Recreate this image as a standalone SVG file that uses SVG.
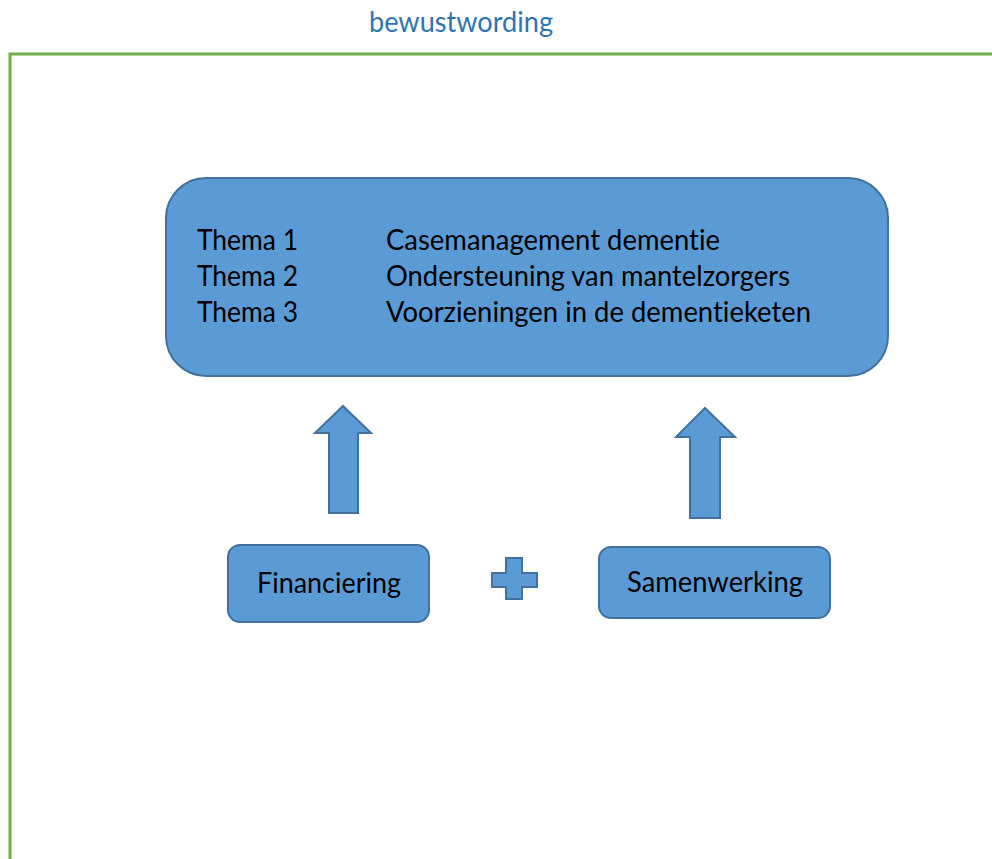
<svg xmlns="http://www.w3.org/2000/svg" width="992" height="859" viewBox="0 0 992 859">
<style>
.shape{fill:#5B9BD5;stroke:#41719C;stroke-width:2}
.t{font-family:Lato,"Open Sans","Liberation Sans",sans-serif;font-size:28px;fill:#000;font-variant-ligatures:none;font-feature-settings:"liga" 0}
</style>
<rect x="0" y="0" width="992" height="859" fill="#fff"/>
<text x="461" y="32" text-anchor="middle" class="t" style="fill:#2E74B5" textLength="184" lengthAdjust="spacingAndGlyphs">bewustwording</text>
<path d="M10,859 L10,54 L1000,54" fill="none" stroke="#70AD47" stroke-width="3"/>
<g id="themas">
<rect class="shape" x="166" y="178" width="722" height="198" rx="40" ry="40"/>
<text class="t" x="197" y="250" textLength="101" lengthAdjust="spacingAndGlyphs">Thema 1</text>
<text class="t" x="197" y="286" textLength="101" lengthAdjust="spacingAndGlyphs">Thema 2</text>
<text class="t" x="197" y="322" textLength="101" lengthAdjust="spacingAndGlyphs">Thema 3</text>
<text class="t" x="386" y="250" textLength="334" lengthAdjust="spacingAndGlyphs">Casemanagement dementie</text>
<text class="t" x="386" y="286" textLength="404" lengthAdjust="spacingAndGlyphs">Ondersteuning van mantelzorgers</text>
<text class="t" x="386" y="322" textLength="425" lengthAdjust="spacingAndGlyphs">Voorzieningen in de dementieketen</text>
</g>
<g id="financiering">
<rect class="shape" x="228" y="545" width="201" height="77" rx="12" ry="12"/>
<text class="t" x="329" y="593" text-anchor="middle" textLength="144" lengthAdjust="spacingAndGlyphs">Financiering</text>
</g>
<g id="plus">
<path class="shape" d="M506,558 L522,558 L522,573 L537,573 L537,587 L522,587 L522,599 L506,599 L506,587 L492,587 L492,573 L506,573 Z"/>
</g>
<g id="samenwerking">
<rect class="shape" x="599" y="547" width="231" height="71" rx="12" ry="12"/>
<text class="t" x="715" y="592" text-anchor="middle" textLength="176" lengthAdjust="spacingAndGlyphs">Samenwerking</text>
</g>
<g id="connectors">
<path class="shape" d="M343,406 L371,433 L358,433 L358,513 L329,513 L329,433 L315,433 Z"/>
<path class="shape" d="M705,408 L735,437 L720,437 L720,518 L690,518 L690,437 L676,437 Z"/>
</g>
</svg>
